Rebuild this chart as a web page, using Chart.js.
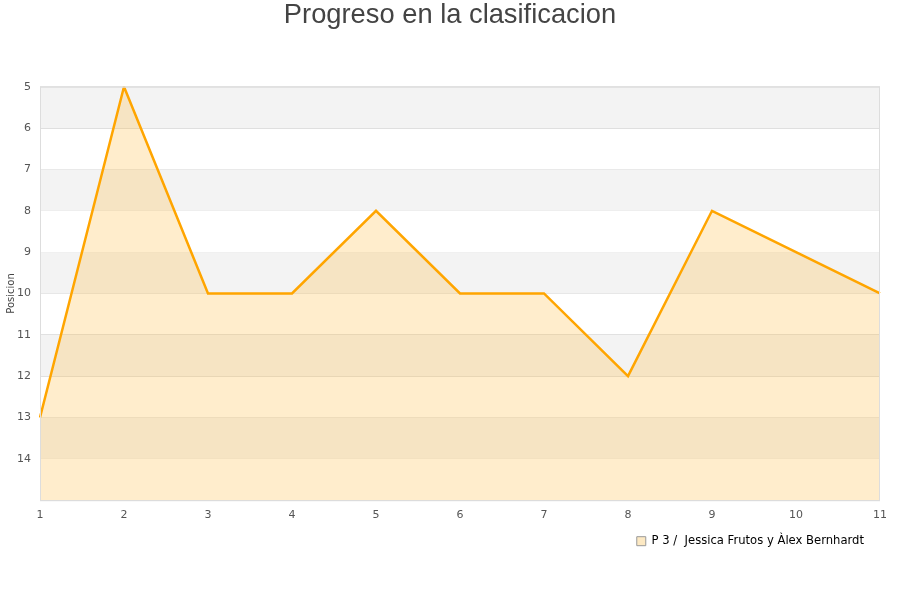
<!DOCTYPE html>
<html>
<head>
<meta charset="utf-8">
<script src="https://cdn.jsdelivr.net/npm/chart.js@4"></script>
<style>
  html, body { margin: 0; padding: 0; background: #fff; }
  #wrap { width: 900px; height: 600px; }
</style>
</head>
<body>
<div id="wrap"><canvas id="grafico" width="900" height="600"></canvas></div>
<script>
// jornadas y posiciones
const jornadas = ['1', '2', '3', '4', '5', '6', '7', '8', '9', '10', '11'];
const posiciones = [13, 5, 10, 10, 8, 10, 10, 12, 8, 9, 10];
const nombreSerie = 'P 3 /  Jessica Frutos y Àlex Bernhardt';
const titulo = 'Progreso en la clasificacion';
const tituloEjeY = 'Posicion';

const fuenteTitulo = { family: 'Liberation Sans, Arial', size: 27.3, weight: 'normal' };

// bandas grises alternas, borde del area y titulo centrado en el lienzo
const bandas = {
    id: 'bandas',
    beforeDraw(chart) {
        // subir un poco la leyenda, pegada al eje x
        const lg = chart.legend;
        if (lg) {
            const alto = lg.bottom - lg.top;
            lg.top = chart.scales.x.bottom - 10;
            lg.bottom = lg.top + alto;
        }
    },
    beforeDatasetsDraw(chart) {
        const { ctx, chartArea: a, scales: { y } } = chart;
        ctx.save();
        ctx.fillStyle = '#f3f3f3';
        for (let v = 5; v < 15; v += 2) {
            const y1 = y.getPixelForValue(v), y2 = y.getPixelForValue(v + 1);
            ctx.fillRect(a.left, y1, a.right - a.left, y2 - y1);
        }
        ctx.restore();
    },
    afterDatasetsDraw(chart) {
        const { ctx, chartArea: a } = chart;
        ctx.save();
        ctx.strokeStyle = '#dddddd';
        ctx.lineWidth = 1;
        ctx.strokeRect(a.left + 0.5, a.top + 0.5, a.right - a.left - 1, a.bottom - a.top);
        ctx.restore();
    },
    afterDraw(chart) {
        const { ctx } = chart;
        ctx.save();
        ctx.fillStyle = '#444';
        ctx.font = `${fuenteTitulo.size}px ${fuenteTitulo.family}`;
        ctx.textAlign = 'center';
        ctx.textBaseline = 'middle';
        ctx.fillText(titulo, chart.width / 2, 15);
        ctx.restore();
    }
};

new Chart(document.getElementById('grafico'), {
    type: 'line',
    data: {
        labels: jornadas,
        datasets: [{
            label: nombreSerie,
            data: posiciones,
            borderColor: '#ffa500',
            backgroundColor: 'rgba(255,183,51,0.25)',
            borderWidth: 2.5,
            pointRadius: 0,
            tension: 0,
            fill: { value: 15 }
        }]
    },
    options: {
        responsive: false,
        animation: false,
        layout: { padding: { left: 5, right: 20, top: 0, bottom: 33 } },
        plugins: {
            title: {
                display: true,
                text: titulo,
                color: 'rgba(0,0,0,0)',
                font: fuenteTitulo,
                padding: { top: 0, bottom: 54 }
            },
            legend: {
                position: 'bottom',
                align: 'end',
                labels: {
                    color: '#222',
                    font: { family: 'DejaVu Sans', size: 11.6 },
                    boxWidth: 9,
                    boxHeight: 9,
                    padding: 16,
                    generateLabels() {
                        return [{
                            text: nombreSerie,
                            fillStyle: '#fde9c3',
                            strokeStyle: '#999',
                            lineWidth: 1,
                            datasetIndex: 0
                        }];
                    }
                }
            },
            tooltip: { enabled: false }
        },
        scales: {
            x: {
                offset: false,
                grid: { display: false, drawTicks: false },
                border: { display: false },
                ticks: { color: '#555', font: { family: 'DejaVu Sans', size: 11 }, maxRotation: 0, padding: 8 }
            },
            y: {
                reverse: true,
                min: 5,
                max: 15,
                grid: { color: '#dddddd', drawTicks: false },
                border: { display: false },
                title: { display: true, text: tituloEjeY, color: '#444', font: { family: 'DejaVu Sans', size: 10 }, padding: 0 },
                ticks: {
                    stepSize: 1,
                    color: '#555',
                    font: { family: 'DejaVu Sans', size: 11 },
                    padding: 9,
                    callback: v => (v === 15 ? '' : v)
                },
                afterFit(s) { s.width = 35; }
            }
        }
    },
    plugins: [bandas]
});
</script>
</body>
</html>
